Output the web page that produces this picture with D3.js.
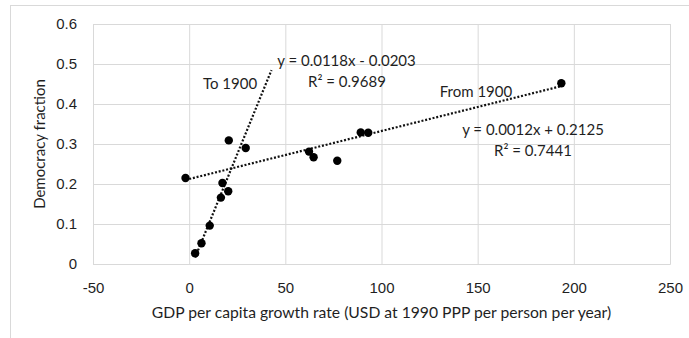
<!DOCTYPE html>
<html>
<head>
<meta charset="utf-8">
<script src="https://cdn.jsdelivr.net/npm/d3@7"></script>
<style>
  body { margin: 0; background: #fff; }
  svg { display: block; font-family: Lato, "Open Sans", sans-serif; }
</style>
</head>
<body>
<svg width="689" height="338"></svg>
<script>
// points
var gdpGrowth = [-1.9, 3.1, 6.4, 10.7, 16.5, 17.3, 20.3, 20.6, 29.4, 62.3, 64.7, 77, 89.2, 93.1, 193.5];
var democracy = [0.215, 0.027, 0.052, 0.096, 0.166, 0.2025, 0.182, 0.309, 0.29, 0.281, 0.267, 0.258, 0.329, 0.328, 0.452];

// trendlines: slope, intercept, x range
var trendNames = ['To 1900', 'From 1900'];
var trendSlope = [0.0118, 0.0012];
var trendIntercept = [-0.0203, 0.2125];
var trendFrom = [3.1, -1.9];
var trendTo = [42.8, 193.5];
var trendEq = ['y = 0.0118x - 0.0203', 'y = 0.0012x + 0.2125'];
var trendR2 = ['R² = 0.9689', 'R² = 0.7441'];

var xTicks = [-50, 0, 50, 100, 150, 200, 250];
var yTicks = [0, 0.1, 0.2, 0.3, 0.4, 0.5, 0.6];

var svg = d3.select('svg');
var plotL = 93, plotR = 670, plotT = 24, plotB = 264;
var grid = '#d9d9d9';
var ink = '#1f1f1f';

// outer frame (only top and left show)
svg.append('line').attr('x1', 10).attr('x2', 689).attr('y1', 5.5).attr('y2', 5.5)
    .attr('stroke', grid);
svg.append('line').attr('x1', 10.5).attr('x2', 10.5).attr('y1', 5).attr('y2', 338)
    .attr('stroke', grid);

var x = d3.scaleLinear().domain([-50, 250]).range([plotL, plotR]);
var y = d3.scaleLinear().domain([0, 0.6]).range([plotB, plotT]);

var g = svg.append('g');

g.append('g')
    .attr('transform', 'translate(0,' + plotB + ')')
    .call(d3.axisBottom(x).tickValues(xTicks).tickSize(-(plotB - plotT)).tickPadding(18)
        .tickFormat(function(d) { return String(d); }))
    .call(function(a) {
        a.select('.domain').attr('stroke', grid);
        a.selectAll('.tick line').attr('stroke', grid);
        a.selectAll('.tick text').attr('fill', ink).style('font-size', '15px');
    });

g.append('g')
    .attr('transform', 'translate(' + plotL + ',0)')
    .call(d3.axisLeft(y).tickValues(yTicks).tickSize(-(plotR - plotL)).tickPadding(16)
        .tickFormat(function(d) { return d === 0 ? '0' : d3.format('.1f')(d); }))
    .call(function(a) {
        a.select('.domain').attr('stroke', grid);
        a.selectAll('.tick line').attr('stroke', grid);
        a.selectAll('.tick text').attr('fill', ink).style('font-size', '15px');
    });

// trendlines
trendNames.forEach(function(n, i) {
    var x0 = trendFrom[i], x1 = trendTo[i];
    g.append('line')
        .attr('x1', x(x0)).attr('y1', y(trendSlope[i] * x0 + trendIntercept[i]))
        .attr('x2', x(x1)).attr('y2', y(trendSlope[i] * x1 + trendIntercept[i]))
        .attr('stroke', '#111')
        .attr('stroke-width', 2.2)
        .attr('stroke-dasharray', '2,1.8');
});

// points
g.selectAll('circle')
    .data(gdpGrowth)
    .enter()
    .append('circle')
    .attr('cx', function(d) { return x(d); })
    .attr('cy', function(d, i) { return y(democracy[i]); })
    .attr('r', 4.2)
    .attr('fill', '#000');

// labels on the chart
var notes = [
    { t: trendNames[0], x: 230, y: 84 },
    { t: trendEq[0], x: 346.5, y: 61 },
    { t: trendR2[0], x: 347, y: 82 },
    { t: trendNames[1], x: 476, y: 92 },
    { t: trendEq[1], x: 533, y: 130 },
    { t: trendR2[1], x: 533, y: 151 }
];
g.selectAll('.note')
    .data(notes)
    .enter()
    .append('text')
    .attr('class', 'note')
    .attr('x', function(d) { return d.x; })
    .attr('y', function(d) { return d.y; })
    .attr('dy', '0.35em')
    .attr('text-anchor', 'middle')
    .attr('fill', ink)
    .style('font-size', '15px')
    .text(function(d) { return d.t; });

// axis titles
svg.append('text')
    .attr('x', (plotL + plotR) / 2)
    .attr('y', 313)
    .attr('dy', '0.35em')
    .attr('text-anchor', 'middle')
    .attr('fill', ink)
    .style('font-size', '15.7px')
    .text('GDP per capita growth rate (USD at 1990 PPP per person per year)');

svg.append('text')
    .attr('transform', 'translate(40,' + (plotT + plotB) / 2 + ') rotate(-90)')
    .attr('dy', '0.35em')
    .attr('text-anchor', 'middle')
    .attr('fill', ink)
    .style('font-size', '15px')
    .text('Democracy fraction');
</script>
</body>
</html>
